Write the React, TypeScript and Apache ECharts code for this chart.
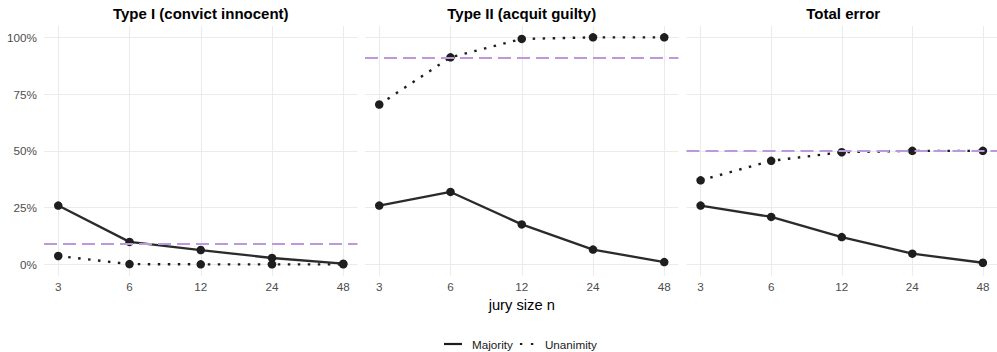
import React, { useEffect, useRef } from "react";
import * as echarts from "echarts";

const categories = ["3", "6", "12", "24", "48"];
const panelTitles = ["Type I (convict innocent)", "Type II (acquit guilty)", "Total error"];
const majorityTypeI = [0.259, 0.099, 0.063, 0.028, 0.003];
const unanimityTypeI = [0.037, 0.001, 0.0, 0.0, 0.0];
const majorityTypeII = [0.259, 0.319, 0.176, 0.065, 0.01];
const unanimityTypeII = [0.704, 0.912, 0.993, 1.0, 1.0];
const majorityTotal = [0.259, 0.209, 0.12, 0.047, 0.007];
const unanimityTotal = [0.37, 0.456, 0.494, 0.5, 0.5];
const referenceLevels = [0.09, 0.91, 0.5];

const majoritySeries = [majorityTypeI, majorityTypeII, majorityTotal];
const unanimitySeries = [unanimityTypeI, unanimityTypeII, unanimityTotal];

const FONT = "Liberation Sans, Arial, Helvetica, sans-serif";
const panelLefts = [44, 365, 686.5];
const panelWidth = 313.5;
const gridTop = 26;
const gridHeight = 249.7;

export default function App() {
  const ref = useRef<HTMLDivElement>(null);
  useEffect(() => {
    if (!ref.current) return;
    const chart = echarts.init(ref.current, null, { renderer: "svg" });
    const grids = panelLefts.map((l) => ({ left: l, top: gridTop, width: panelWidth, height: gridHeight }));
    const xAxes = panelLefts.map((_, i) => ({
      type: "value",
      gridIndex: i,
      min: -0.2,
      max: 4.2,
      minInterval: 1,
      maxInterval: 1,
      axisLine: { show: false },
      axisTick: { show: false },
      axisLabel: {
        show: true,
        showMinLabel: false,
        showMaxLabel: false,
        margin: 5,
        fontSize: 11.7,
        color: "#4d4d4d",
        fontFamily: FONT,
        formatter: (v: number) => {
          const r = Math.round(v);
          return Math.abs(v - r) < 1e-6 && r >= 0 && r < categories.length ? categories[r] : "";
        },
      },
      splitLine: {
        show: true,
        showMinLine: false,
        showMaxLine: false,
        lineStyle: { color: "#ebebeb", width: 1.1 },
      },
      ...(i === 1
        ? {
            name: "jury size n",
            nameLocation: "middle",
            nameGap: 21,
            nameTextStyle: { fontSize: 14.7, color: "#000", fontFamily: FONT },
          }
        : {}),
    }));
    const yAxes = panelLefts.map((_, i) => ({
      type: "value",
      gridIndex: i,
      min: -0.05,
      max: 1.05,
      minInterval: 0.25,
      maxInterval: 0.25,
      axisLine: { show: false },
      axisTick: { show: false },
      axisLabel: {
        show: i === 0,
        showMinLabel: false,
        showMaxLabel: false,
        margin: 7,
        fontSize: 11.7,
        color: "#4d4d4d",
        fontFamily: FONT,
        formatter: (v: number) => {
          const q = v * 4;
          return Math.abs(q - Math.round(q)) < 1e-6 && v >= 0 && v <= 1 ? `${Math.round(v * 100)}%` : "";
        },
      },
      splitLine: {
        show: true,
        showMinLine: false,
        showMaxLine: false,
        lineStyle: { color: "#ebebeb", width: 1.1 },
      },
    }));
    const series: any[] = [];
    panelLefts.forEach((_, i) => {
      series.push({
        type: "line",
        name: "Majority",
        xAxisIndex: i,
        yAxisIndex: i,
        data: categories.map((_, j) => [j, majoritySeries[i][j]]),
        color: "#262626",
        symbol: "circle",
        symbolSize: 8.5,
        showSymbol: true,
        clip: false,
        lineStyle: { color: "#2b2b2b", width: 2.3 },
        itemStyle: { color: "#1e1e1e" },
        markLine: {
          silent: true,
          symbol: ["none", "none"],
          label: { show: false },
          lineStyle: { color: "#BE98DC", width: 2, type: [13, 6] },
          data: [{ yAxis: referenceLevels[i] }],
        },
      });
      series.push({
        type: "line",
        name: "Unanimity",
        xAxisIndex: i,
        yAxisIndex: i,
        data: categories.map((_, j) => [j, unanimitySeries[i][j]]),
        color: "#262626",
        symbol: "circle",
        symbolSize: 8.5,
        showSymbol: true,
        clip: false,
        lineStyle: { color: "#1e1e1e", width: 2.4, type: [2.5, 7.5] },
        itemStyle: { color: "#1e1e1e" },
      });
    });
    const solidIcon = "path://M0,0h18v2.2h-18z";
    const dottedIcon =
      "path://M3,0h2.4v2.2h-2.4z M14,0h2.4v2.2h-2.4z M0,1h0.01v0.01h-0.01z M17.99,1h0.01v0.01h-0.01z";
    chart.setOption({
      animation: false,
      title: panelTitles.map((t, i) => ({
        text: t,
        left: panelLefts[i] + panelWidth / 2,
        textAlign: "center",
        top: 6,
        padding: 0,
        textStyle: { fontSize: 15, fontWeight: "bold", color: "#000", fontFamily: FONT },
      })),
      grid: grids,
      xAxis: xAxes,
      yAxis: yAxes,
      legend: {
        left: 444,
        top: 338,
        padding: 0,
        itemWidth: 18,
        itemHeight: 2.2,
        itemGap: 4,
        selectedMode: false,
        itemStyle: { borderWidth: 0 },
        textStyle: { fontSize: 11.7, color: "#1a1a1a", fontFamily: FONT, padding: [0, 0, 0, 5] },
        data: [
          { name: "Majority", icon: solidIcon },
          { name: "Unanimity", icon: dottedIcon },
        ],
      },
      series,
    });
    return () => chart.dispose();
  }, []);
  return (
    <div
      ref={ref}
      style={{ position: "absolute", left: 0, top: 0, width: 997, height: 352, background: "#fff" }}
    />
  );
}
